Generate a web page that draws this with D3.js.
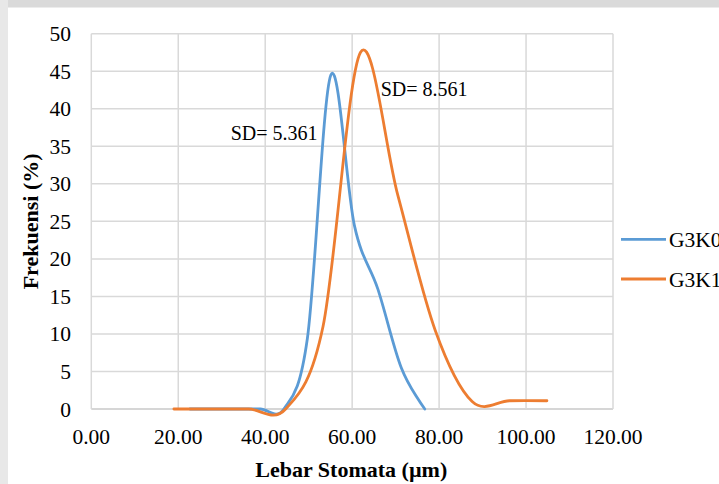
<!DOCTYPE html>
<html><head><meta charset="utf-8">
<script src="https://cdn.jsdelivr.net/npm/d3@7"></script>
<style>html,body{margin:0;padding:0;background:#fff;overflow:hidden}</style>
</head><body>
<svg id="c" width="719" height="484"></svg>
<script>
const seriesNames = ["G3K0", "G3K1"];
const g3k0X = [22.7, 28.1, 33.5, 38.9, 44.3, 49.7, 55.1, 60.5, 65.9, 71.3, 76.7];
const g3k0Y = [0, 0, 0, 0, 0, 9.4, 44.5, 24.5, 16, 5.5, 0];
const g3k1X = [19.0, 27.6, 36.2, 44.7, 53.3, 61.9, 70.5, 79.1, 87.6, 96.2, 104.8];
const g3k1Y = [0, 0, 0, 0, 11, 47.5, 28.5, 10.5, 1, 1.1, 1.1];
const xTicks = [0, 20, 40, 60, 80, 100, 120];
const yTicks = [0, 5, 10, 15, 20, 25, 30, 35, 40, 45, 50];
const annotations = [{text: "SD= 5.361"}, {text: "SD= 8.561"}];
const colors = ["#5b9bd5", "#ed7d31"];

const svg = d3.select("#c");
const font = "'Liberation Serif','Times New Roman',serif";
// background frame
svg.append("rect").attr("x",0).attr("y",0).attr("width",719).attr("height",484).attr("fill","#ffffff");
svg.append("rect").attr("x",0).attr("y",0).attr("width",719).attr("height",7.5).attr("fill","#dadada");
svg.append("rect").attr("x",0).attr("y",0).attr("width",8).attr("height",484).attr("fill","#e8e8e8");

const x = d3.scaleLinear().domain([0,120]).range([91.3,613]);
const y = d3.scaleLinear().domain([0,50]).range([409,33.7]);

// gridlines
svg.append("g").selectAll("line").data(yTicks).join("line")
  .attr("x1",x(0)).attr("x2",x(120)).attr("y1",d=>y(d)).attr("y2",d=>y(d))
  .attr("stroke",d=>d===0?"#c8c8c8":"#d9d9d9").attr("stroke-width",1.5);
svg.append("g").selectAll("line").data(xTicks).join("line")
  .attr("y1",y(0)).attr("y2",y(50)).attr("x1",d=>x(d)).attr("x2",d=>x(d))
  .attr("stroke","#d9d9d9").attr("stroke-width",1.5);

// tick labels
svg.append("g").selectAll("text").data(yTicks).join("text")
  .attr("x",71).attr("y",d=>y(d)+7.5).attr("text-anchor","end")
  .attr("font-family",font).attr("font-size",21.5).attr("fill","#000")
  .text(d=>d);
svg.append("g").selectAll("text").data(xTicks).join("text")
  .attr("x",d=>x(d)).attr("y",444).attr("text-anchor","middle")
  .attr("font-family",font).attr("font-size",21.5).attr("fill","#000")
  .text(d=>d3.format(".2f")(d));

// axis titles
svg.append("text").attr("x",351.3).attr("y",477).attr("text-anchor","middle")
  .attr("font-family",font).attr("font-size",22).attr("font-weight","bold").text("Lebar Stomata (µm)");
svg.append("text").attr("transform","translate(38,221.4) rotate(-90)").attr("text-anchor","middle")
  .attr("font-family",font).attr("font-size",22).attr("font-weight","bold").text("Frekuensi (%)");

// lines
const line = d3.line().x(d=>x(d[0])).y(d=>y(d[1])).curve(d3.curveCardinal.tension(0));
const data = [d3.zip(g3k0X,g3k0Y), d3.zip(g3k1X,g3k1Y)];
data.forEach((pts,i)=>{
  svg.append("path").datum(pts).attr("d",line).attr("fill","none")
    .attr("stroke",colors[i]).attr("stroke-width",2.8).attr("stroke-linejoin","round").attr("stroke-linecap","round");
});

// annotations
svg.append("text").attr("x",230.7).attr("y",140).attr("font-family",font).attr("font-size",20).text(annotations[0].text);
svg.append("text").attr("x",380.7).attr("y",96).attr("font-family",font).attr("font-size",20).text(annotations[1].text);

// legend
const legY = [239.3, 279];
seriesNames.forEach((n,i)=>{
  svg.append("line").attr("x1",621).attr("x2",666).attr("y1",legY[i]).attr("y2",legY[i])
    .attr("stroke",colors[i]).attr("stroke-width",2.8);
  svg.append("text").attr("x",669).attr("y",legY[i]+7.5).attr("font-family",font).attr("font-size",21.5).text(n);
});
</script>
</body></html>
